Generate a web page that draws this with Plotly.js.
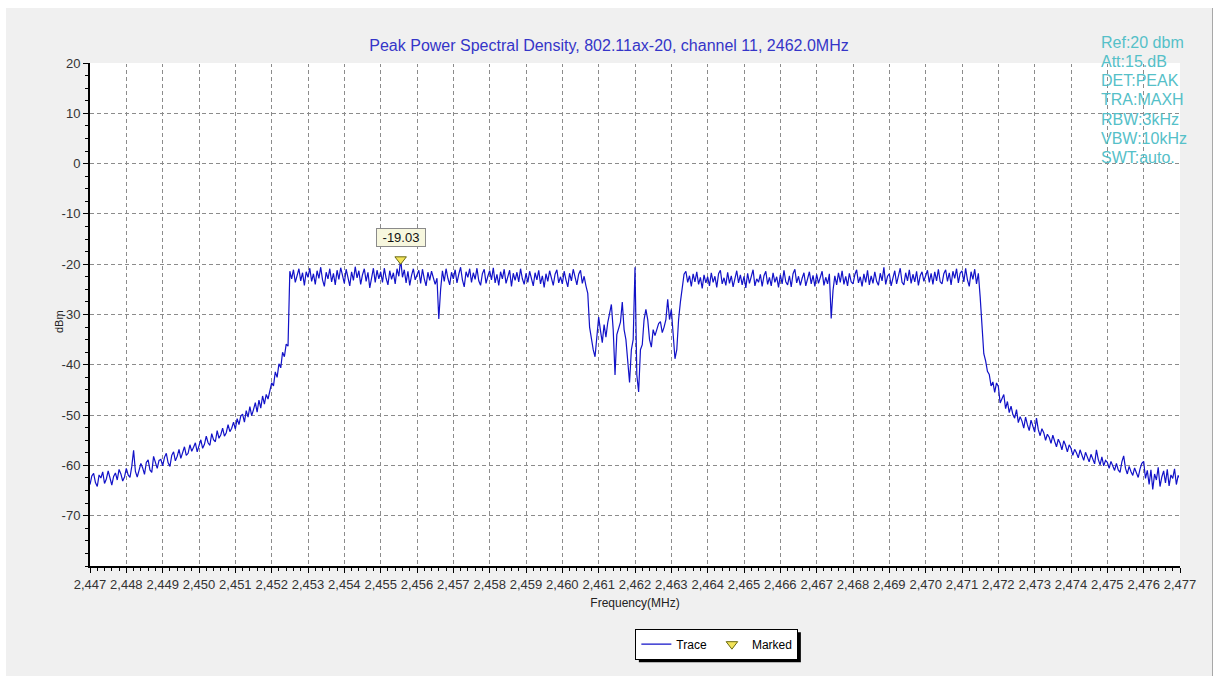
<!DOCTYPE html>
<html>
<head>
<meta charset="utf-8">
<script src="https://cdn.plot.ly/plotly-3.0.1.min.js"></script>
<style>
html,body{margin:0;padding:0;background:#ffffff;}
#wrap{position:absolute;left:6px;top:8px;width:1206px;height:668px;background:#f0f0f0;border-right:1px solid #a8a8a8;}
#chart{width:1206px;height:668px;}
</style>
</head>
<body>
<div id="wrap"><div id="chart"></div></div>
<script>
// ---------------- data ----------------
const sampleStepMHz = 0.05;

// 2447.00 .. 2452.45 MHz : lower skirt
const leftSkirtStart = 2447.0;
const leftSkirt = [
 -63.8,-62.1,-61.6,-63.4,-64.2,-61.9,-62.5,-61.3,-63.6,-62.7,-61.1,-62.4,-63.9,-62.2,-61.5,-62.9,-60.8,-61.7,-63.1,-62.3,
 -60.6,-61.9,-62.4,-60.2,-57.0,-61.2,-62.3,-61.0,-59.6,-60.5,-61.8,-59.4,-58.9,-60.9,-61.4,-58.2,-59.7,-60.6,-59.0,-58.8,
 -60.1,-58.4,-57.6,-59.5,-60.2,-58.0,-57.3,-59.1,-58.2,-56.8,-58.6,-57.4,-56.3,-58.0,-57.6,-55.9,-57.2,-56.4,-55.5,-57.3,
 -56.1,-54.9,-56.6,-55.8,-54.2,-55.5,-56.0,-53.7,-54.9,-55.3,-53.1,-54.6,-53.9,-52.6,-54.2,-53.5,-51.9,-53.3,-52.6,-51.4,
 -52.8,-50.7,-51.9,-50.2,-49.8,-51.4,-49.1,-50.4,-48.3,-50.1,-48.9,-47.5,-49.4,-47.0,-48.6,-46.2,-47.8,-45.9,-46.8,-44.9,
 -43.6,-44.2,-41.4,-42.5,-39.8,-40.6,-37.5,-38.4,-35.9,-36.3
];

// 2452.50 .. 2460.65 MHz : lower occupied band
const lowerBandStart = 2452.5;
const lowerBand = [
 -21.4,-22.9,-21.1,-23.6,-22.0,-20.9,-23.3,-21.7,-24.2,-21.5,
 -22.6,-20.8,-23.4,-21.9,-24.0,-21.3,-22.8,-20.6,-23.1,-24.4,-21.6,-22.9,-20.9,-23.5,-21.8,-24.1,-21.2,-23.0,-20.7,-22.5,
 -23.8,-21.0,-22.4,-24.3,-21.5,-23.2,-20.5,-22.7,-21.3,-24.0,-22.1,-20.9,-23.4,-21.6,-24.7,-22.3,-20.8,-23.6,-21.2,-22.9,
 -21.5,-23.6,-20.8,-22.8,-24.1,-21.3,-23.0,-21.7,-23.9,-20.9,-22.4,-19.03,-22.6,-21.1,-23.7,-21.4,-24.2,-22.2,-20.9,-23.1,
 -22.0,-21.2,-23.8,-21.0,-22.9,-24.3,-21.6,-23.2,-21.4,-22.7,-24.0,-22.8,-30.9,-25.0,-21.3,-23.4,-20.9,-22.8,-24.1,-21.6,
 -22.9,-21.1,-23.7,-22.0,-20.6,-23.1,-24.5,-21.5,-22.6,-20.9,-23.6,-21.7,-23.0,-20.8,-23.3,-24.2,-21.9,-21.0,-23.8,-22.4,
 -21.3,-23.1,-20.7,-23.7,-22.0,-24.2,-21.5,-22.9,-21.0,-23.8,-22.2,-21.2,-24.4,-21.8,-23.2,-21.6,-23.5,-20.9,-22.9,-24.0,
 -21.8,-23.6,-21.4,-22.8,-24.3,-21.7,-23.1,-21.2,-23.9,-22.3,-24.6,-21.9,-23.4,-21.3,-22.9,-24.2,-22.0,-21.1,-23.7,-22.5,
 -23.9,-21.4,-23.1,-24.5,-21.8,-23.3,-21.0,-22.8,-24.1,-22.0,-21.2,-23.8,-22.4,-24.3
];

// 2460.70 .. 2463.30 MHz : centre gap
const centerGapStart = 2460.7;
const centerGap = [
 -25.8,-32.5,-34.9,-37.0,-38.4,-34.0,
 -30.5,-33.2,-35.6,-32.0,-34.5,-31.6,-30.0,-28.0,-33.0,-42.0,-34.0,-32.8,-31.5,-27.5,-33.0,-35.0,-39.0,-43.5,-37.0,-35.0,
 -20.6,-42.0,-45.4,-37.0,-36.0,-31.0,-29.0,-31.0,-35.0,-36.5,-33.0,-34.2,-33.0,-31.8,-31.4,-33.6,-32.5,-31.0,-27.0,-31.0,
 -29.0,-35.0,-38.8,-37.0,-31.0,-27.5,-25.0
];

// 2463.35 .. 2471.45 MHz : upper occupied band
const upperBandStart = 2463.35;
const upperBand = [
 -22.0,-21.4,-23.6,-22.3,-24.4,-21.9,-23.5,-21.5,-24.0,-22.6,-24.8,-22.1,-23.7,
 -22.5,-24.3,-21.7,-23.6,-22.4,-24.6,-21.9,-21.2,-23.9,-22.7,-24.2,-21.6,-23.8,-22.3,-24.5,-23.0,-21.3,-23.7,-22.1,-24.1,
 -22.4,-24.7,-21.8,-23.8,-22.5,-21.1,-24.3,-22.9,-23.6,-22.0,-24.4,-22.3,-21.4,-24.0,-22.6,-24.3,-21.7,-23.6,-22.5,-24.6,
 -22.1,-23.9,-21.2,-23.5,-24.1,-22.3,-24.5,-21.9,-21.0,-23.7,-22.4,-24.2,-22.8,-21.7,-24.3,-22.6,-21.5,-23.9,-22.2,-24.4,
 -22.0,-23.8,-22.4,-21.4,-24.2,-22.6,-23.9,-21.9,-30.8,-25.2,-22.3,-24.1,-21.7,-23.6,-21.3,-24.0,-22.4,-24.3,-21.8,-23.5,
 -23.9,-22.1,-21.1,-23.7,-22.5,-24.4,-21.9,-23.6,-21.2,-24.1,-22.3,-23.8,-21.5,-23.4,-24.2,-21.8,-23.3,-20.6,-24.0,-22.4,
 -21.9,-24.3,-22.7,-21.3,-23.9,-22.2,-20.8,-23.6,-24.1,-21.7,-23.3,-21.1,-23.8,-22.0,-23.5,-21.4,-24.2,-22.3,-21.5,-23.4,
 -22.0,-21.2,-23.6,-21.8,-24.0,-21.5,-23.3,-21.0,-23.5,-23.9,-21.9,-21.1,-23.4,-21.7,-24.1,-21.4,-22.8,-20.9,-23.7,-21.8,
 -21.3,-23.5,-20.8,-23.1,-24.4,-21.5,-23.0,-21.0,-23.9,-21.8
];

// 2471.50 .. 2477.00 MHz : upper skirt
const rightSkirtStart = 2471.5;
const rightSkirt = [
 -26.5,-33.6,-37.8,-39.2,-41.3,-41.9,-44.2,-43.4,-45.5,-43.6,
 -44.3,-47.6,-46.8,-45.9,-48.7,-47.3,-49.5,-48.2,-49.9,-50.6,-48.9,-51.5,-50.3,-51.2,-52.6,-50.4,-51.9,-53.1,-51.0,-52.2,
 -53.4,-50.6,-52.9,-54.1,-52.7,-53.5,-55.0,-53.8,-54.4,-55.6,-54.0,-55.2,-56.3,-54.8,-55.6,-56.9,-55.1,-56.0,-57.3,-55.9,
 -56.6,-58.0,-56.8,-57.5,-58.5,-56.9,-58.1,-59.0,-57.4,-58.4,-59.3,-57.8,-58.6,-59.7,-56.9,-58.8,-59.9,-58.3,-60.1,-59.0,
 -59.4,-60.6,-59.2,-60.3,-61.0,-59.6,-60.9,-61.4,-59.3,-58.1,-60.6,-61.7,-60.2,-61.2,-62.0,-60.5,-61.3,-62.4,-60.7,-59.6,
 -59.2,-62.6,-61.0,-63.8,-60.9,-64.8,-61.7,-62.9,-60.4,-64.2,-62.3,-61.1,-63.5,-60.8,-64.1,-61.9,-62.6,-60.7,-63.8,-62.0,
 -62.6
];

const markedFreq = [2455.55];
const markedLevel = [-19.03];
const markedLabel = '-19.03';

const yTickValues = [-70, -60, -50, -40, -30, -20, -10, 0, 10, 20];
const yTickLabels = ['-70', '-60', '-50', '-40', '-30', '-20', '-10', '0', '10', '20'];

const chartTitle = 'Peak Power Spectral Density, 802.11ax-20, channel 11, 2462.0MHz';
const xAxisTitle = 'Frequency(MHz)';
const yAxisTitle = 'dBm';
const infoLines = ['Ref:20 dbm', 'Att:15.dB', 'DET:PEAK', 'TRA:MAXH', 'RBW:3kHz', 'VBW:10kHz', 'SWT:auto.'];

// ---------------- build the sampled trace ----------------
const segments = [
  [leftSkirtStart, leftSkirt],
  [lowerBandStart, lowerBand],
  [centerGapStart, centerGap],
  [upperBandStart, upperBand],
  [rightSkirtStart, rightSkirt]
];
const freq = [], level = [];
segments.forEach(([start, vals]) => {
  vals.forEach((v, i) => {
    freq.push(+(start + i * sampleStepMHz).toFixed(3));
    level.push(v);
  });
});

const data = [
  {
    type: 'scatter', mode: 'lines', name: 'Trace',
    x: freq, y: level,
    line: {color: '#1212c8', width: 1.2},
    hoverinfo: 'skip'
  },
  {
    type: 'scatter', mode: 'markers', name: 'Marked',
    x: markedFreq, y: markedLevel,
    marker: {symbol: 'triangle-down', size: 10, color: '#f3e45a', line: {color: '#6a6a10', width: 1}},
    hoverinfo: 'skip'
  }
];

// ---------------- layout geometry ----------------
const W = 1206, H = 668;
const M = {l: 84, r: 32, t: 55, b: 110};
const plotW = W - M.l - M.r, plotH = H - M.t - M.b;
const paperX = px => (px - M.l) / plotW;          // div px -> paper x
const paperY = py => (M.t + plotH - py) / plotH;  // div px -> paper y

const gridDash = '4px,3px';
const shapes = [
  {type: 'line', xref: 'paper', yref: 'y', x0: 0, x1: 1, y0: 20, y1: 20, line: {color: '#ffffff', width: 2}, layer: 'above'},
  {type: 'line', xref: 'x', yref: 'paper', x0: 2477, x1: 2477, y0: 0.004, y1: 1, line: {color: '#ffffff', width: 2}, layer: 'above'}
];

const annotations = [
  {
    xref: 'x', yref: 'y', x: markedFreq[0], y: markedLevel[0], text: markedLabel,
    showarrow: false, yshift: 22, width: 46, height: 15,
    bgcolor: '#f7f7de', bordercolor: '#8a8a8a', borderwidth: 1, borderpad: 1,
    font: {size: 13, color: '#111'}
  },
  {
    xref: 'paper', yref: 'paper', x: paperX(53), y: paperY(314), textangle: -90,
    xanchor: 'center', yanchor: 'middle', showarrow: false, text: yAxisTitle,
    font: {size: 11, color: '#222'}
  }
];
infoLines.forEach((line, i) => {
  annotations.push({
    xref: 'paper', yref: 'paper', x: paperX(1093), y: paperY(34 + i * 19.3),
    xanchor: 'left', yanchor: 'middle', showarrow: false, text: line,
    font: {size: 16, color: '#55c0c8'}
  });
});

const layout = {
  width: W, height: H,
  paper_bgcolor: '#f0f0f0', plot_bgcolor: '#ffffff',
  margin: M,
  font: {family: '"Liberation Sans", Arial, sans-serif', color: '#222', size: 13},
  showlegend: true,
  title: {
    text: chartTitle,
    font: {size: 16, color: '#3535c8'},
    x: 0.5, xref: 'container', xanchor: 'center',
    y: 1 - 37 / H, yref: 'container', yanchor: 'middle'
  },
  xaxis: {
    range: [2447, 2477], tick0: 2447, dtick: 1, tickformat: ',d',
    ticks: 'outside', ticklen: 5, tickcolor: '#000', tickwidth: 1,
    tickfont: {size: 13, color: '#333'},
    showline: true, linecolor: '#000', linewidth: 2,
    showgrid: true, gridcolor: '#8c8c8c', griddash: gridDash, gridwidth: 1,
    zeroline: false,
    minor: {tick0: 2447, dtick: 0.2, ticks: 'outside', ticklen: 3, tickcolor: '#000', showgrid: false},
    title: {text: xAxisTitle, font: {size: 12, color: '#222'}, standoff: 8},
    fixedrange: true
  },
  yaxis: {
    range: [-80, 20], tickmode: 'array', tickvals: yTickValues, ticktext: yTickLabels,
    ticks: 'outside', ticklen: 5, tickcolor: '#000', tickwidth: 1,
    tickfont: {size: 13, color: '#333'},
    showline: true, linecolor: '#000', linewidth: 2,
    showgrid: true, gridcolor: '#8c8c8c', griddash: gridDash, gridwidth: 1,
    zeroline: false,
    minor: {tickmode: 'linear', tick0: -80, dtick: 2.5, ticks: 'outside', ticklen: 3, tickcolor: '#000', showgrid: false},
    fixedrange: true
  },
  legend: {
    orientation: 'h', x: 0.5751, xanchor: 'center', y: -0.1246, yanchor: 'top',
    bgcolor: '#ffffff', bordercolor: '#000000', borderwidth: 1,
    font: {size: 12, color: '#000'}
  },
  annotations: annotations,
  shapes: shapes
};

Plotly.newPlot('chart', data, layout, {staticPlot: true, displayModeBar: false}).then(gd => {
  const bg = gd.querySelector('.legend .bg');
  if (!bg) return;
  const r = bg.getBoundingClientRect();
  const c = gd.getBoundingClientRect();
  const s = gd._fullLayout._size;
  const toPx = px => (px - c.left - s.l) / s.w;
  const toPy = py => 1 - (py - c.top - s.t) / s.h;
  const off = 3;
  const shadow = {
    type: 'rect', xref: 'paper', yref: 'paper',
    x0: toPx(r.left + off), x1: toPx(r.right + off),
    y0: toPy(r.bottom + off), y1: toPy(r.top + off),
    fillcolor: '#000000', line: {width: 0}, layer: 'above'
  };
  return Plotly.relayout(gd, {shapes: shapes.concat([shadow])});
});
</script>
</body>
</html>
